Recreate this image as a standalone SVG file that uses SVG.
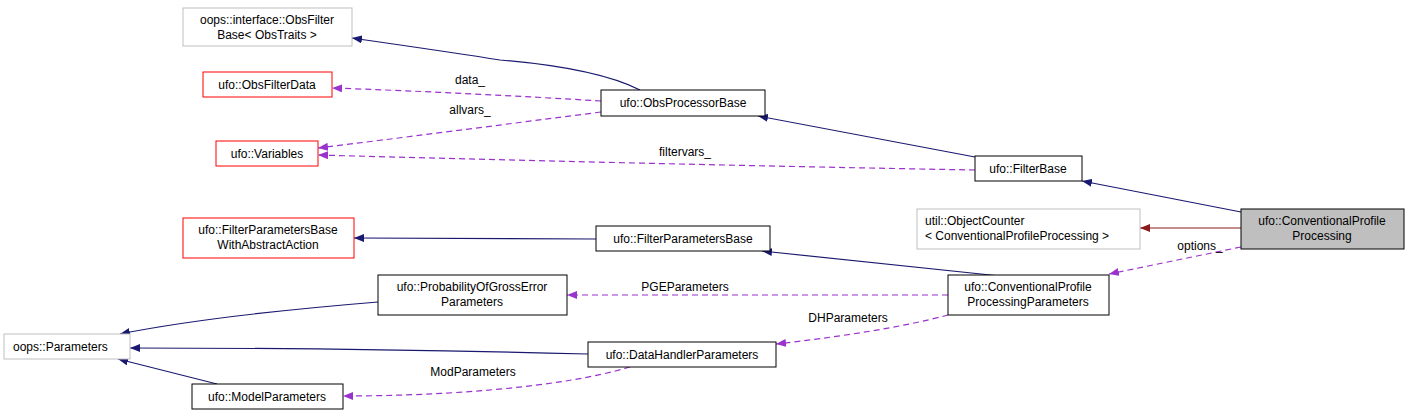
<svg xmlns="http://www.w3.org/2000/svg" width="1409" height="417" viewBox="0 0 1409 417">
<style>
text{font-family:"Liberation Sans",Arial,sans-serif;font-size:12px;fill:#000;text-anchor:middle}
.n rect{fill:#fff;stroke:#000;stroke-width:1}
.g rect{stroke:#bfbfbf}
.r rect{stroke:#ff0000}
.inh{fill:none;stroke:#191970;stroke-width:1.2}
.use{fill:none;stroke:#9a32cd;stroke-width:1.2;stroke-dasharray:6,4}
.tpl{fill:none;stroke:#8b1a1a;stroke-width:1.2}
</style>
<defs>
<marker id="an" viewBox="0 0 10 8" refX="10" refY="4" markerWidth="10" markerHeight="8" markerUnits="userSpaceOnUse" orient="auto"><path d="M0,0L10,4L0,8z" fill="#191970"/></marker>
<marker id="ap" viewBox="0 0 10 8" refX="10" refY="4" markerWidth="10" markerHeight="8" markerUnits="userSpaceOnUse" orient="auto"><path d="M0,0L10,4L0,8z" fill="#9a32cd"/></marker>
<marker id="ar" viewBox="0 0 10 8" refX="10" refY="4" markerWidth="10" markerHeight="8" markerUnits="userSpaceOnUse" orient="auto"><path d="M0,0L10,4L0,8z" fill="#8b1a1a"/></marker>
</defs>
<g id="edges">
<path class="inh" marker-end="url(#an)" d="M640,90C610,75 560,65 500,60C450,52 400,45 352,38"/>
<path class="use" marker-end="url(#ap)" d="M601,101C520,96 420,91 332,88"/>
<text x="470" y="84">data_</text>
<path class="use" marker-end="url(#ap)" d="M601,112C500,125 400,138 318,148"/>
<text x="470" y="114">allvars_</text>
<path class="inh" marker-end="url(#an)" d="M975,157L758,116"/>
<path class="use" marker-end="url(#ap)" d="M975,170C750,166 500,160 318,155"/>
<text x="685" y="156">filtervars_</text>
<path class="inh" marker-end="url(#an)" d="M1241,212L1082,181"/>
<path class="tpl" marker-end="url(#ar)" d="M1241,228L1140,228"/>
<path class="use" marker-end="url(#ap)" d="M1241,247L1109,274"/>
<text x="1200" y="250">options_</text>
<path class="inh" marker-end="url(#an)" d="M1000,276L762,251"/>
<path class="inh" marker-end="url(#an)" d="M596,239L354,238"/>
<path class="use" marker-end="url(#ap)" d="M948,295L567,295"/>
<text x="685" y="291">PGEParameters</text>
<path class="use" marker-end="url(#ap)" d="M948,315C900,328 830,338 776,344"/>
<text x="848" y="322">DHParameters</text>
<path class="inh" marker-end="url(#an)" d="M378,302C280,310 190,320 120,334"/>
<path class="inh" marker-end="url(#an)" d="M588,354C430,350 270,348 130,348"/>
<path class="inh" marker-end="url(#an)" d="M217,384L118,359"/>
<path class="use" marker-end="url(#ap)" d="M630,367C560,388 440,396 343,396"/>
<text x="473" y="376">ModParameters</text>
</g>
<g id="n1" class="n g"><rect x="183" y="8" width="169" height="38"/><text x="267" y="24">oops::interface::ObsFilter</text><text x="267" y="39">Base&lt; ObsTraits &gt;</text></g>
<g id="n2" class="n r"><rect x="203" y="72" width="129" height="25"/><text x="267" y="89">ufo::ObsFilterData</text></g>
<g id="n3" class="n r"><rect x="216" y="141" width="102" height="25"/><text x="267" y="158">ufo::Variables</text></g>
<g id="n4" class="n"><rect x="601" y="90" width="164" height="26"/><text x="683" y="107">ufo::ObsProcessorBase</text></g>
<g id="n5" class="n"><rect x="975" y="156" width="107" height="25"/><text x="1028" y="173">ufo::FilterBase</text></g>
<g id="n6" class="n"><rect x="1241" y="209" width="163" height="40" style="fill:#bfbfbf"/><text x="1322" y="225">ufo::ConventionalProfile</text><text x="1322" y="240">Processing</text></g>
<g id="n7" class="n g"><rect x="917" y="209" width="223" height="40"/><text x="925" y="225" style="text-anchor:start">util::ObjectCounter</text><text x="925" y="240" style="text-anchor:start">&lt; ConventionalProfileProcessing &gt;</text></g>
<g id="n8" class="n r"><rect x="183" y="218" width="171" height="40"/><text x="268" y="234">ufo::FilterParametersBase</text><text x="268" y="249">WithAbstractAction</text></g>
<g id="n9" class="n"><rect x="596" y="226" width="174" height="25"/><text x="683" y="243">ufo::FilterParametersBase</text></g>
<g id="n10" class="n"><rect x="948" y="275" width="161" height="40"/><text x="1028" y="291">ufo::ConventionalProfile</text><text x="1028" y="306">ProcessingParameters</text></g>
<g id="n11" class="n"><rect x="378" y="275" width="189" height="40"/><text x="472" y="291">ufo::ProbabilityOfGrossError</text><text x="472" y="306">Parameters</text></g>
<g id="n12" class="n g"><rect x="4" y="334" width="126" height="25"/><text x="13" y="351" style="text-anchor:start">oops::Parameters</text></g>
<g id="n13" class="n"><rect x="588" y="342" width="188" height="25"/><text x="682" y="359">ufo::DataHandlerParameters</text></g>
<g id="n14" class="n"><rect x="192" y="384" width="151" height="25"/><text x="267" y="401">ufo::ModelParameters</text></g>
</svg>
